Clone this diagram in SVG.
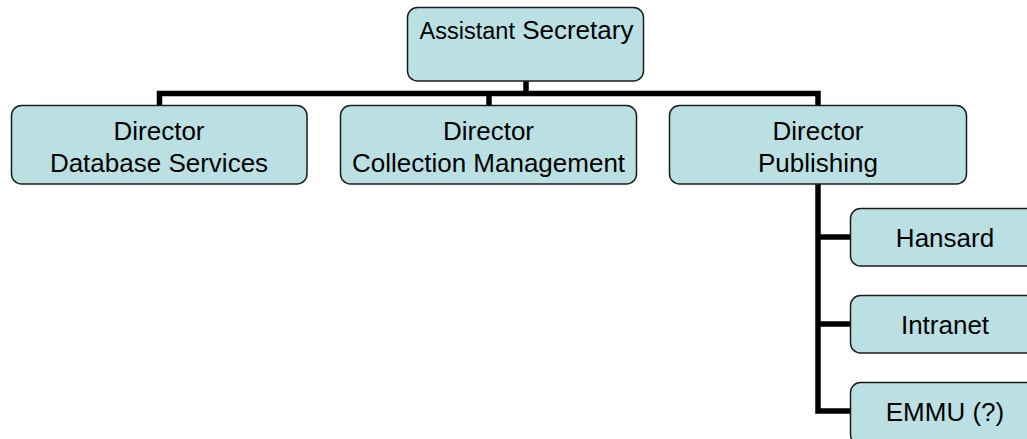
<svg xmlns="http://www.w3.org/2000/svg" width="1027" height="439" viewBox="0 0 1027 439">
  <style>
    .box { fill: #BBE0E3; stroke: #1c1c1c; stroke-width: 1.5; }
    .lbl { font-family: "Liberation Sans", Arial, sans-serif; font-size: 26px; fill: #000; text-anchor: middle; }
    .link { fill: none; stroke: #000; stroke-width: 5.5; stroke-linejoin: miter; stroke-linecap: butt; }
  </style>
  <rect width="1027" height="439" fill="#fff"/>

  <!-- elbow connectors of the org chart -->
  <g id="connectors">
    <path class="link" d="M526 81 V93.5"/>
    <path class="link" d="M159.5 105 V93.5 H818 V105"/>
    <path class="link" d="M489 93.5 V105"/>
    <path class="link" d="M850 411 H818 V184"/>
    <path class="link" d="M818 237 H850"/>
    <path class="link" d="M818 324 H850"/>
  </g>

  <g id="assistant-secretary">
    <rect class="box" x="407.5" y="7.5" width="236" height="73.5" rx="10"/>
    <text class="lbl" x="526.5" y="38.5"><tspan font-size="23.5">Assistant</tspan> Secretary</text>
  </g>

  <g id="director-database">
    <rect class="box" x="11.5" y="105.5" width="295.5" height="78.5" rx="10"/>
    <text class="lbl" x="159" y="139.5">Director</text>
    <text class="lbl" x="159" y="171.5">Database Services</text>
  </g>

  <g id="director-collection">
    <rect class="box" x="340.5" y="105.5" width="296" height="78.5" rx="10"/>
    <text class="lbl" x="488.5" y="139.5">Director</text>
    <text class="lbl" x="488.5" y="171.5">Collection Management</text>
  </g>

  <g id="director-publishing">
    <rect class="box" x="669.5" y="105.5" width="297" height="78.5" rx="10"/>
    <text class="lbl" x="818" y="139.5">Director</text>
    <text class="lbl" x="818" y="171.5">Publishing</text>
  </g>

  <g id="hansard">
    <rect class="box" x="850.5" y="208.5" width="189" height="57.5" rx="10"/>
    <text class="lbl" x="945" y="246.5">Hansard</text>
  </g>

  <g id="intranet">
    <rect class="box" x="850.5" y="295.5" width="189" height="57.5" rx="10"/>
    <text class="lbl" x="945" y="333.5">Intranet</text>
  </g>

  <g id="emmu">
    <rect class="box" x="850.5" y="382.5" width="189" height="62" rx="10"/>
    <text class="lbl" x="945" y="420.5">EMMU (?)</text>
  </g>
</svg>
